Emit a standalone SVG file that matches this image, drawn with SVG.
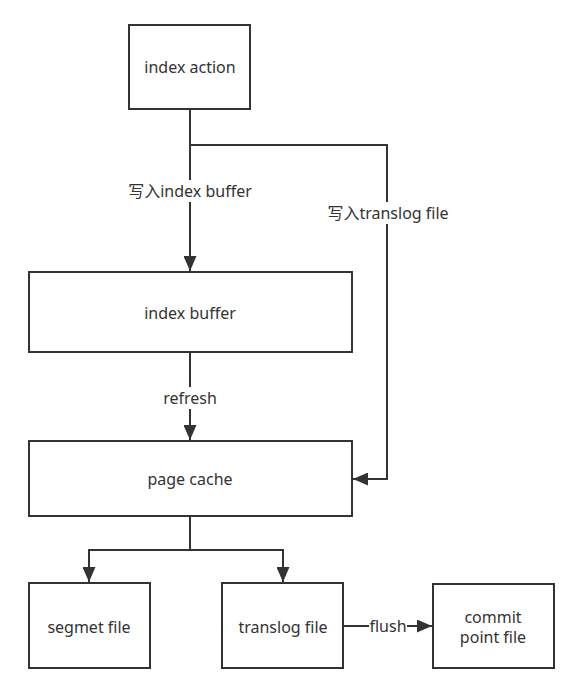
<svg xmlns="http://www.w3.org/2000/svg" width="574" height="682" viewBox="0 0 574 682">
<style>
.box{fill:#fff;stroke:#333;stroke-width:2}
.t{font-family:"Noto Sans","Noto Sans CJK SC",sans-serif;font-size:16px;fill:#333;text-anchor:middle;dominant-baseline:central}
.ln{fill:none;stroke:#333;stroke-width:2}
.bg{fill:#fff}
</style>
<defs>
<marker id="a" viewBox="0 0 15 13" refX="15" refY="6.5" markerWidth="15" markerHeight="13" markerUnits="userSpaceOnUse" orient="auto">
<path d="M0,0 L15,6.5 L0,13 Z" fill="#333"/>
</marker>
</defs>
<rect width="574" height="682" fill="#fff"/>
<g id="connectors">
<path class="ln" d="M190,109 V271" marker-end="url(#a)"/>
<path class="ln" d="M190,145 H387 V479 H353" marker-end="url(#a)"/>
<path class="ln" d="M190,352 V440" marker-end="url(#a)"/>
<path class="ln" d="M190,516 V550 H89 V582" marker-end="url(#a)"/>
<path class="ln" d="M190,550 H283 V582" marker-end="url(#a)"/>
<path class="ln" d="M343,626 H432" marker-end="url(#a)"/>
<rect class="bg" x="122" y="180" width="136" height="22"/>
<text class="t" x="190" y="191">写入index buffer</text>
<rect class="bg" x="320" y="202" width="136" height="22"/>
<text class="t" x="388" y="213">写入translog file</text>
<rect class="bg" x="158" y="387" width="64" height="22"/>
<text class="t" x="190" y="398">refresh</text>
<rect class="bg" x="369" y="615" width="38" height="22"/>
<text class="t" x="388" y="626">flush</text>
</g>
<g id="index-action"><rect class="box" x="129" y="25" width="121" height="84"/><text class="t" x="190" y="67">index action</text></g>
<g id="index-buffer"><rect class="box" x="29" y="272" width="323" height="80"/><text class="t" x="190" y="313">index buffer</text></g>
<g id="page-cache"><rect class="box" x="29" y="441" width="323" height="75"/><text class="t" x="190" y="479">page cache</text></g>
<g id="segmet-file"><rect class="box" x="29" y="583" width="121" height="85"/><text class="t" x="89" y="627">segmet file</text></g>
<g id="translog-file"><rect class="box" x="222" y="583" width="121" height="85"/><text class="t" x="283" y="627">translog file</text></g>
<g id="commit-point-file"><rect class="box" x="433" y="584" width="121" height="84"/><text class="t" x="493" y="617">commit</text><text class="t" x="493" y="637">point file</text></g>
</svg>
